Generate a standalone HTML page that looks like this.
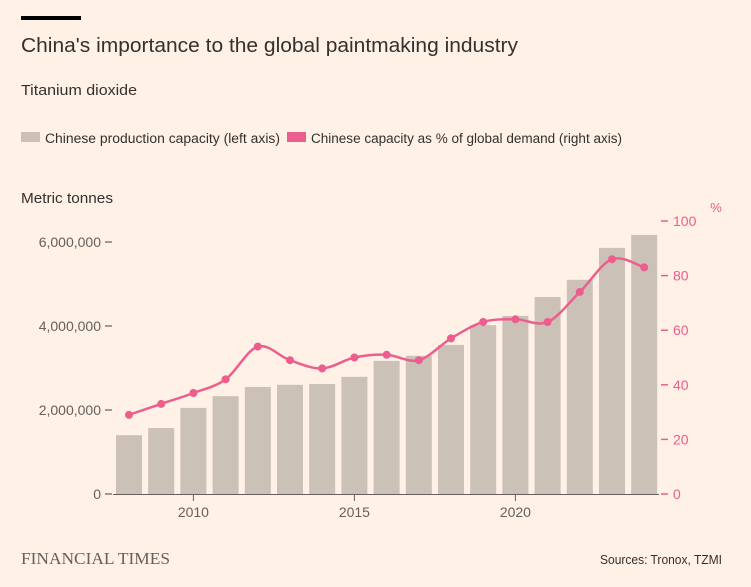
<!DOCTYPE html>
<html><head><meta charset="utf-8"><style>
html,body{margin:0;padding:0;background:#fff1e5;}
svg{display:block;font-family:"Liberation Sans",sans-serif;}
</style></head><body>
<svg id="chart" width="751" height="587" viewBox="0 0 751 587">
<rect width="751" height="587" fill="#fff1e5"/>
<rect x="21" y="16" width="60" height="4" fill="#000"/>
<text x="21" y="52" font-size="20" fill="#33302e" textLength="497" lengthAdjust="spacingAndGlyphs">China's importance to the global paintmaking industry</text>
<text x="21" y="95" font-size="15" fill="#33302e" textLength="116" lengthAdjust="spacingAndGlyphs">Titanium dioxide</text>
<rect x="21" y="132" width="19" height="10" fill="#ccc1b7"/>
<text x="45" y="143" font-size="13.5" fill="#33302e" textLength="235" lengthAdjust="spacingAndGlyphs">Chinese production capacity (left axis)</text>
<rect x="287" y="132" width="19" height="10" fill="#eb5e8d"/>
<text x="311" y="143" font-size="13.5" fill="#33302e" textLength="311" lengthAdjust="spacingAndGlyphs">Chinese capacity as % of global demand (right axis)</text>
<text x="21" y="203" font-size="14.5" fill="#33302e" textLength="92" lengthAdjust="spacingAndGlyphs">Metric tonnes</text>
<text x="716" y="212" font-size="13" fill="#eb5e8d" text-anchor="middle">%</text>
<g id="plot"></g>
<text x="21" y="564" font-size="17" fill="#66605c" font-family="Liberation Serif,serif" textLength="149" lengthAdjust="spacingAndGlyphs">FINANCIAL TIMES</text>
<text x="722" y="564" font-size="12.5" fill="#33302e" text-anchor="end" textLength="122" lengthAdjust="spacingAndGlyphs">Sources: Tronox, TZMI</text>
</svg>
<script>
const years = [2008,2009,2010,2011,2012,2013,2014,2015,2016,2017,2018,2019,2020,2021,2022,2023,2024];
const capacity = [1400000,1570000,2050000,2330000,2550000,2600000,2620000,2790000,3170000,3290000,3550000,4020000,4240000,4690000,5100000,5860000,6170000];
const sharePct = [29,33,37,42,54,49,46,50,51,49,57,63,64,63,74,86,83];
const leftTicks = [0,2000000,4000000,6000000];
const leftTickLabels = ["0","2,000,000","4,000,000","6,000,000"];
const rightTicks = [0,20,40,60,80,100];
const xTicks = [2010,2015,2020];

const NS = "http://www.w3.org/2000/svg";
const g = document.getElementById('plot');
const x = yr => 129 + (yr - 2008) * 32.2;
const yL = v => 494 - v / 2000000 * 84;
const yR = v => 494 - v * 2.73;
function mk(tag, attrs){const e=document.createElementNS(NS,tag);for(const k in attrs)e.setAttribute(k,attrs[k]);g.appendChild(e);return e;}

leftTicks.forEach((t,i)=>{
  const l=mk('line',{x1:105,x2:112,y1:yL(t),y2:yL(t),stroke:'#66605c','stroke-width':1.2});
  
  
  const tx=mk('text',{x:101,y:yL(t)+5,'font-size':14,fill:'#66605c','text-anchor':'end'});
  tx.textContent=leftTickLabels[i];
  
  
});
rightTicks.forEach(t=>{
  const l=mk('line',{x1:661,x2:668,y1:yR(t),y2:yR(t),stroke:'#eb5e8d','stroke-width':1.5});
  
  
  const tx=mk('text',{x:673,y:yR(t)+5,'font-size':14,fill:'#eb5e8d'});
  tx.textContent=String(t);
  
  
});
years.forEach((yr,i)=>{
  const b=mk('rect',{x:x(yr)-13,y:yL(capacity[i]),width:26,height:494-yL(capacity[i]),fill:'#ccc1b7'});
  
  
});
const base=mk('line',{x1:113,x2:659,y1:494.5,y2:494.5,stroke:'#66605c','stroke-width':1});


xTicks.forEach(t=>{
  const l=mk('line',{x1:x(t),x2:x(t),y1:495,y2:501,stroke:'#66605c','stroke-width':1});
  
  
  const tx=mk('text',{x:x(t),y:517,'font-size':14,fill:'#66605c','text-anchor':'middle'});
  tx.textContent=String(t);
  
  
});
// smooth line (catmull-rom)
const pts=years.map((yr,i)=>[x(yr),yR(sharePct[i])]);
let d='M'+pts[0][0]+','+pts[0][1];
for(let i=0;i<pts.length-1;i++){
  const p0=pts[Math.max(0,i-1)],p1=pts[i],p2=pts[i+1],p3=pts[Math.min(pts.length-1,i+2)];
  const c1=[p1[0]+(p2[0]-p0[0])/6,p1[1]+(p2[1]-p0[1])/6];
  const c2=[p2[0]-(p3[0]-p1[0])/6,p2[1]-(p3[1]-p1[1])/6];
  d+=' C'+c1+' '+c2+' '+p2;
}
const line=mk('path',{d:d,fill:'none',stroke:'#eb5e8d','stroke-width':2.5});


pts.forEach((p,i)=>{
  const c=mk('circle',{cx:p[0],cy:p[1],r:4,fill:'#eb5e8d'});
  
  
});
</script>
</body></html>
